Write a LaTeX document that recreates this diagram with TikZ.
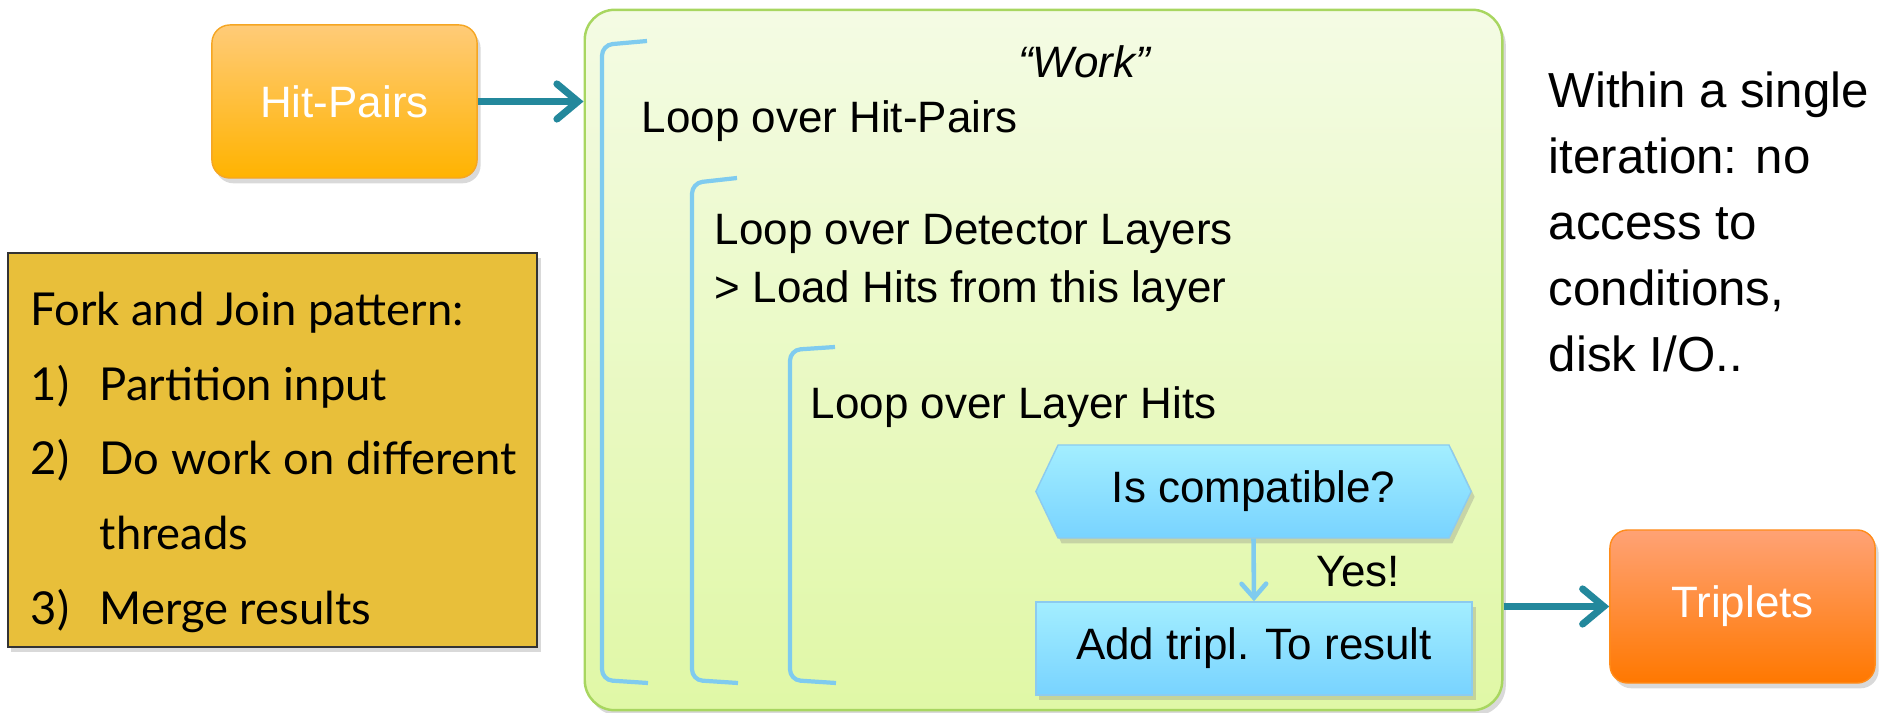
\documentclass[tikz,border=0pt]{standalone}
\usepackage{fontspec}
\setmainfont{Liberation Sans}
\newfontfamily\gillfont{Lato}
\usetikzlibrary{arrows.meta}
\usetikzlibrary{shapes.symbols}
\usetikzlibrary{shadows}

\definecolor{arrowteal}{HTML}{23889C}
\definecolor{bracketblue}{HTML}{7FCBEF}
\definecolor{workline}{HTML}{A8D660}
\definecolor{worktop}{HTML}{F4FBE4}
\definecolor{workbottom}{HTML}{E0F8A6}
\definecolor{pairtop}{HTML}{FFCB78}
\definecolor{pairbottom}{HTML}{FFB300}
\definecolor{pairline}{HTML}{F5A623}
\definecolor{triptop}{HTML}{FFA275}
\definecolor{tripbottom}{HTML}{FF7800}
\definecolor{tripline}{HTML}{FF8C1A}
\definecolor{steptop}{HTML}{A3EEFF}
\definecolor{stepbottom}{HTML}{78D3FF}
\definecolor{stepline}{HTML}{8CCBEF}
\definecolor{forkfill}{HTML}{E8BF3A}

\begin{document}
\begin{tikzpicture}[x=0.01cm, y=-0.01cm,
  >={Straight Barb[length=6pt,width=10pt,line cap=round]},
  softshadow/.style={drop shadow={opacity=0.3, shadow xshift=1pt, shadow yshift=-1.5pt}},
  io/.style={rounded corners=0.18cm, minimum width=2.65cm, minimum height=1.53cm,
    text=white, font=\fontsize{12.5}{15}\selectfont, softshadow},
  stepbox/.style={draw=stepline, top color=steptop, bottom color=stepbottom,
    font=\fontsize{12.5}{15}\selectfont, softshadow},
  looptext/.style={anchor=west, inner sep=0pt, font=\fontsize{12.5}{16.5}\selectfont, align=left},
  flow/.style={->, draw=arrowteal, line width=2pt},
  bracket/.style={draw=bracketblue, line width=1.2pt, rounded corners=3pt}]
\useasboundingbox (0,0) rectangle (1879,713);

% work area
\node[name=workbox, draw=workline, line width=0.7pt, top color=worktop, bottom color=workbottom,
  rounded corners=0.3cm, minimum width=9.17cm, minimum height=7cm, softshadow] at (1043.5,360) {};
\foreach \bx/\by/\ty in {602/45/41, 692/183/178, 790/350/347}
  \draw[bracket] (\bx+45,\ty) -- (\bx,\by) -- (\bx,680) -- (\bx+46,683);

\node[name=worktitle, font=\fontsize{12.5}{15}\selectfont\itshape] at (1084,62) {“Work”};
\node[name=loop_pairs, looptext] at (641,121) {Loop over Hit-Pairs};
\node[name=loop_layers, looptext] at (714,263) {Loop over Detector Layers\\> Load Hits from this layer};
\node[name=loop_hits, looptext] at (810,407) {Loop over Layer Hits};

\node[name=compat, stepbox, signal, signal to=east and west, signal pointer angle=129,
  minimum width=4.35cm, minimum height=0.93cm] at (1253.5,491.5) {Is compatible?};
\node[name=addres, stepbox, minimum width=4.36cm, minimum height=0.93cm] at (1254,648.5) {Add tripl. To result};
\draw[-{Straight Barb[length=4pt,width=7pt,line cap=round]}, draw=bracketblue, line width=1.3pt]
  (compat.south) -- (addres.north);
\node[name=yes, font=\fontsize{12.5}{15}\selectfont] at (1358,572) {Yes!};

% inputs and outputs
\node[name=hitpairs, io, draw=pairline, top color=pairtop, bottom color=pairbottom] at (344.5,101.5) {Hit-Pairs};
\node[name=triplets, io, draw=tripline, top color=triptop, bottom color=tripbottom] at (1742.5,606.5) {Triplets};
\draw[flow] (hitpairs.east) -- (hitpairs.east -| workbox.west);
\draw[flow] (workbox.east |- triplets.west) -- (triplets.west);

% notes
\node[name=forkbox, draw=black!80, line width=0.5pt, fill=forkfill, minimum width=5.29cm,
  minimum height=3.94cm, softshadow] at (272.5,450) {};
\node[name=forktext, anchor=west, inner sep=0pt, font=\gillfont\fontsize{12.9}{21.3}\selectfont] at (30,460)
  {\begin{tabular}{@{}p{0.69cm}@{}l@{}}
    \multicolumn{2}{@{}l@{}}{Fork and Join pattern:}\\
    1) & Partition input\\
    2) & Do work on different\\
       & threads\\
    3) & Merge results
  \end{tabular}};
\node[name=within, anchor=west, inner sep=0pt, align=left, font=\fontsize{14}{18.8}\selectfont] at (1548,222)
  {Within a single\\iteration: no\\access to\\conditions,\\disk I/O..};
\end{tikzpicture}
\end{document}
